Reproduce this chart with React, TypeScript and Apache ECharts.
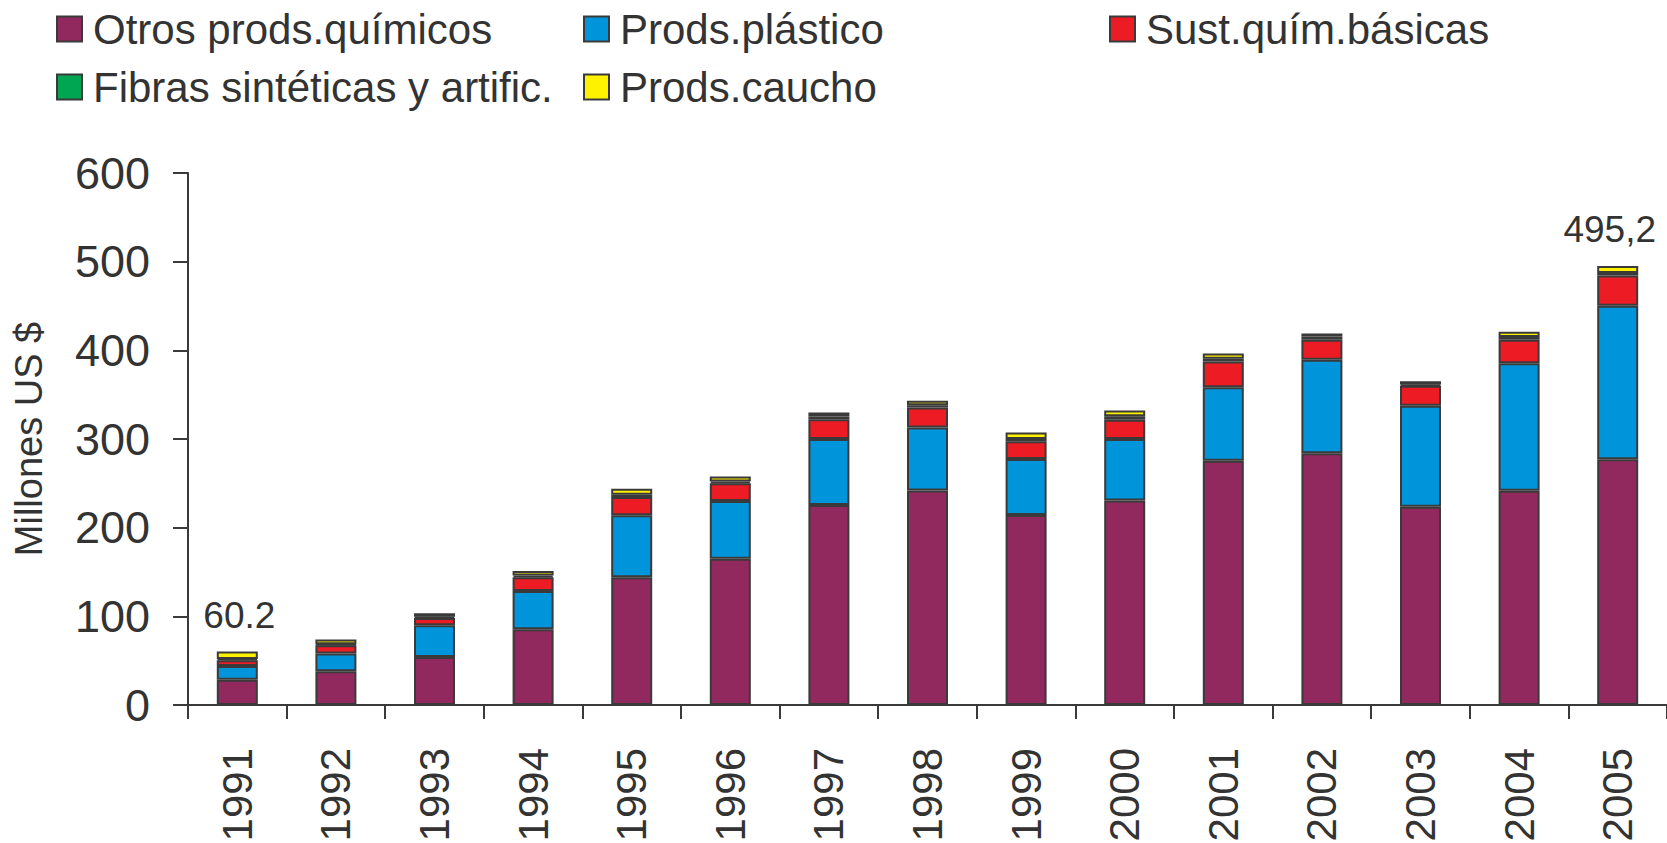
import React, { useEffect, useRef } from "react";
import * as echarts from "echarts";

const years = ["1991", "1992", "1993", "1994", "1995", "1996", "1997", "1998", "1999", "2000", "2001", "2002", "2003", "2004", "2005"];
const otros = [28.5, 38, 54, 85.5, 144, 165, 225.7, 242, 214.4, 230.6, 275.5, 284, 223.5, 241.5, 277.3];
const plastico = [15.5, 20, 36, 43, 70, 65, 74.2, 71, 63, 69.3, 83, 105.4, 114, 144, 173];
const sustQuim = [6.5, 9.5, 8, 15.5, 20.5, 20, 22.5, 22.6, 20, 21.7, 29, 22.6, 22.5, 26.5, 34];
const fibras = [1.5, 1, 1.5, 2, 2.5, 2, 3, 2.5, 2.5, 4, 3, 3.5, 1.5, 3, 3];
const caucho = [8.2, 5.5, 4, 5, 7, 5.7, 4.5, 5, 7.5, 6.6, 6, 3.6, 3.5, 6, 7.9];
const totalLabels: Record<number, string> = { 0: "60.2", 14: "495,2" };
const yTicks = { min: 0, max: 600, interval: 100 };

const seriesNames = ["Otros prods.químicos", "Prods.plástico", "Sust.quím.básicas", "Fibras sintéticas y artific.", "Prods.caucho"];
const colors = ["#92295E", "#0095DA", "#ED1C24", "#00A651", "#FFF200"];

const FONT = "'Liberation Sans', Arial, Helvetica, sans-serif";
const TXT = "#333333";
const BORDER = "#3a3a3a";

export default function App() {
  const ref = useRef<HTMLDivElement>(null);
  useEffect(() => {
    if (!ref.current) return;
    const chart = echarts.init(ref.current, null, { renderer: "svg" });
    const values = [otros, plastico, sustQuim, fibras, caucho];
    const series = values.map((vals, si) => ({
      name: seriesNames[si],
      type: "bar",
      stack: "total",
      barWidth: 41,
      itemStyle: { color: colors[si], borderColor: BORDER, borderWidth: 2 },
      data: vals.map((v, i) => {
        if (si === 4 && totalLabels[i] !== undefined) {
          return {
            value: v,
            label: {
              show: true,
              position: "top",
              distance: 18,
              formatter: totalLabels[i],
              color: TXT,
              fontFamily: FONT,
              fontSize: 37,
              offset: i === 14 ? [-8, 0] : [2, 0],
            },
          };
        }
        return v;
      }),
    }));
    const legendPos = [
      { left: 56, top: 8 },
      { left: 583, top: 8 },
      { left: 1109, top: 8 },
      { left: 56, top: 66 },
      { left: 583, top: 66 },
    ];
    const legends = seriesNames.map((n, i) => ({
      data: [n],
      left: legendPos[i].left,
      top: legendPos[i].top,
      padding: 0,
      itemWidth: 25,
      itemHeight: 25,
      icon: "rect",
      textStyle: { fontFamily: FONT, fontSize: 42, color: TXT, padding: [0, 0, 0, 6] },
      selectedMode: false,
    }));
    chart.setOption({
      animation: false,
      backgroundColor: "#ffffff",
      textStyle: { fontFamily: FONT },
      legend: legends,
      grid: { left: 188, right: 0, top: 173, bottom: 138, containLabel: false, outerBoundsMode: "none" },
      xAxis: {
        type: "category",
        data: years,
        axisLine: { lineStyle: { color: BORDER, width: 2 } },
        axisTick: { show: true, length: 14, lineStyle: { color: BORDER, width: 2 } },
        axisLabel: { rotate: 90, margin: 43, fontSize: 42, color: TXT, fontFamily: FONT },
      },
      yAxis: {
        type: "value",
        min: yTicks.min,
        max: yTicks.max,
        interval: yTicks.interval,
        name: "Millones US $",
        nameLocation: "middle",
        nameGap: 140,
        nameTextStyle: { fontSize: 38, color: TXT, fontFamily: FONT },
        axisLine: { show: true, lineStyle: { color: BORDER, width: 2 } },
        axisTick: { show: true, length: 15, lineStyle: { color: BORDER, width: 2 } },
        axisLabel: { margin: 38, fontSize: 45, color: TXT, fontFamily: FONT },
        splitLine: { show: false },
      },
      series,
    });
    return () => chart.dispose();
  }, []);
  return <div ref={ref} style={{ position: "fixed", left: 0, top: 0, width: 1667, height: 843 }} />;
}
